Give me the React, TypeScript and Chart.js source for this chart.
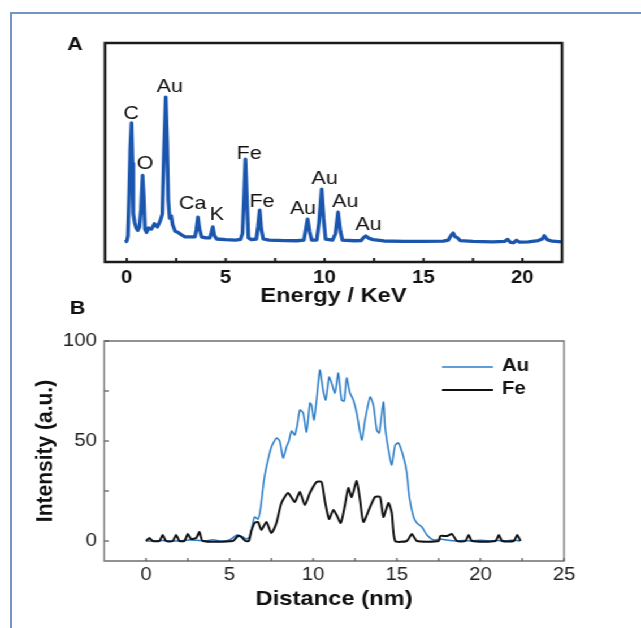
import { useEffect, useRef } from "react";
import { Chart, registerables } from "chart.js";

Chart.register(...registerables);

const FONT = "'Liberation Sans', Arial, Helvetica, sans-serif";

// ---- Panel A: EDX spectrum ----
const spectrumEnergy = [
  -0.1, 0.0, 0.06, 0.12, 0.18, 0.24, 0.29, 0.33, 0.4, 0.48, 0.56, 0.64, 0.72, 0.8, 0.86, 0.92,
  1.0, 1.1, 1.25, 1.4, 1.55, 1.68, 1.8, 1.88, 1.97, 2.04, 2.1, 2.17, 2.25, 2.32, 2.45, 2.6,
  2.75, 2.95, 3.2, 3.45, 3.52, 3.6, 3.68, 3.78, 4.0, 4.2, 4.28, 4.35, 4.43, 4.55, 5.0, 5.5,
  5.75, 5.85, 5.93, 6.0, 6.07, 6.15, 6.3, 6.55, 6.63, 6.72, 6.8, 6.9, 7.2, 8.0, 8.6, 8.95,
  9.05, 9.14, 9.24, 9.35, 9.6, 9.72, 9.85, 9.95, 10.05, 10.4, 10.55, 10.68, 10.8, 10.9, 11.5,
  11.85, 11.95, 12.08, 12.25, 12.45, 13.0, 14.0, 15.0, 16.0, 16.25, 16.42, 16.5, 16.6, 16.7,
  16.85, 17.5, 18.5, 19.1, 19.25, 19.4, 19.55, 19.7, 19.85, 20.3, 20.8, 21.0, 21.1, 21.25,
  21.5, 22.0,
];
const spectrumCounts = [
  9.2, 9.5, 12, 30, 52, 63.5, 45, 22, 18, 15.5, 14.5, 16, 24, 39.5, 30, 15,
  13.5, 15.5, 15, 17.5, 16, 18.5, 22, 50, 75.3, 55, 28, 20, 21, 17, 14, 13.5,
  12.5, 11.5, 11.5, 11.5, 15, 20.5, 15, 11.5, 11, 11, 13.5, 16, 12, 10.5, 10.2, 10,
  10.3, 13, 30, 47, 30, 11, 10.2, 10.5, 16, 23.7, 15, 10.5, 10, 9.8, 9.7, 10,
  15, 19.6, 14, 10, 10, 18, 33.3, 20, 10.5, 10, 13, 22.8, 14, 10, 9.7,
  9.8, 11, 11.9, 10.8, 10.2, 9.6, 9.4, 9.4, 9.5, 10, 12.5, 13.2, 11.5, 11.2,
  9.8, 9.4, 9.2, 9.4, 10.3, 9, 8.8, 9.9, 9.1, 9.2, 9.8, 10.5, 12, 10.2,
  9.5, 9.2,
];
const energyTicks = [0, 2.5, 5, 7.5, 10, 12.5, 15, 17.5, 20];
const energyLabels = [0, 5, 10, 15, 20];

const peakNames = ["C", "O", "Au", "Ca", "K", "Fe", "Fe", "Au", "Au", "Au", "Au"];
const peakLabelEnergy = [0.23, 0.93, 2.17, 3.33, 4.55, 6.19, 6.84, 8.91, 10.0, 11.04, 12.22];
const peakLabelHeight = [67.6, 45, 80.1, 26.7, 21.5, 49.5, 27.6, 24.4, 38.1, 27.6, 16.9];

// ---- Panel B: line scan ----
const auDistance = [
  0, 0.5, 1, 1.5, 2, 2.5, 3, 3.5, 4, 4.5, 5, 5.45, 5.8, 6, 6.2, 6.4, 6.5, 6.7, 6.85, 7.05,
  7.2, 7.5, 7.8, 8, 8.2, 8.4, 8.55, 8.7, 8.9, 9.05, 9.2, 9.4, 9.6, 9.8, 9.9, 10.05, 10.2,
  10.4, 10.6, 10.75, 10.95, 11.1, 11.3, 11.5, 11.7, 11.85, 12, 12.2, 12.4, 12.6, 12.9, 13.1,
  13.4, 13.6, 13.8, 13.95, 14.2, 14.3, 14.5, 14.7, 14.9, 15.1, 15.4, 15.6, 15.75, 16, 16.2,
  16.5, 16.8, 17.2, 17.6, 18, 18.5, 19, 19.5, 20, 20.5, 21, 21.5, 22, 22.35,
];
const auIntensity = [
  0, 0, 0.3, 0, 0, 0.5, 0.4, 0, 0.6, 0, 0.5, 3, 2, 1, 2, 9, 12, 11, 16, 30,
  37, 47, 51.5, 50, 41.5, 47, 50, 55, 53, 58, 65.5, 64, 54.5, 69, 68, 60.5, 70.5,
  85.5, 75, 70.5, 82, 79, 74, 84, 70.5, 70, 81.5, 74, 70.5, 64, 50.5, 60.5,
  72, 68, 55.5, 54, 69.5, 57, 45.5, 38, 48, 49, 42, 34, 22, 12, 9,
  7, 3, 0.5, 1, 0.5, 0, 0.3, 0, 0.4, 0, 0.3, 0, 0.5, 0,
];
const feDistance = [
  0, 0.2, 0.4, 0.8, 1, 1.2, 1.6, 1.8, 2, 2.3, 2.5, 2.7, 3, 3.2, 3.4, 5.2, 5.5, 5.7, 5.95,
  6.15, 6.3, 6.5, 6.7, 6.9, 7.2, 7.5, 7.8, 8.1, 8.5, 8.9, 9.2, 9.5, 9.8, 10.2, 10.5, 10.7,
  10.95, 11.2, 11.4, 11.65, 11.9, 12.1, 12.3, 12.6, 12.8, 13, 13.4, 13.7, 14, 14.2, 14.5,
  14.7, 14.9, 15.6, 15.9, 16.2, 17.5, 17.6, 18, 18.3, 18.6, 19.1, 19.3, 19.5, 20.9, 21.1,
  21.3, 22, 22.2, 22.4,
];
const feIntensity = [
  0, 1.5, 0, 0, 3, 0, 0, 3, 0, 0, 3.5, 1, 1.5, 4.5, 0, 0, 2.5, 2, 0,
  0, 5, 9, 9.5, 5.5, 9.5, 4, 9, 19, 24, 19.5, 24.5, 18, 24, 29.5, 29.5, 20,
  11, 15.5, 13, 9, 18, 26.5, 22, 30, 20.5, 9.5, 17, 22, 22, 12, 19,
  14, 0, 0, 3.5, 0, 0, 2.5, 2.5, 3.5, 0, 0, 3, 0, 0, 3,
  0, 0, 3, 0,
];
const distanceTicks = [0, 2.5, 5, 7.5, 10, 12.5, 15, 17.5, 20, 22.5, 25];
const distanceLabels = [0, 5, 10, 15, 20, 25];
const intensityTicks = [0, 25, 50, 75, 100];
const intensityLabels = [0, 50, 100];

// ---- layout ----
const PAGE_W = 641;
const PAGE_H = 628;
const INNER_W = 567;
const SX = PAGE_W / INNER_W; // horizontal stretch of the whole figure
const FRAME = "#7395c6";
const SPEC_BLUE = "#1a55ae";
const AU_BLUE = "#2a7cc7";

const A_H = 320;
const B_TOP = 290;
const B_H = PAGE_H - B_TOP;

const toPts = (xs: number[], ys: number[]) => xs.map((x, i) => ({ x, y: ys[i] }));

// plot box from the scales' own bounds
function plotBox(chart: any) {
  const xs = chart.scales.x;
  const ys = chart.scales.y;
  return { l: xs.left, r: xs.right, t: ys.top, b: ys.bottom };
}

function configA(): any {
  const decor = {
    id: "decorA",
    afterDraw(chart: any) {
      const ctx: CanvasRenderingContext2D = chart.ctx;
      const xs = chart.scales.x;
      const ys = chart.scales.y;
      const { l, r, t, b } = plotBox(chart);
      ctx.save();
      ctx.setLineDash([]);
      ctx.globalAlpha = 1;
      ctx.strokeStyle = "#1b1b1b";
      ctx.lineWidth = 2.5;
      ctx.beginPath();
      ctx.moveTo(l, t);
      ctx.lineTo(r, t);
      ctx.lineTo(r, b);
      ctx.lineTo(l, b);
      ctx.closePath();
      ctx.stroke();
      ctx.lineWidth = 2;
      for (const v of energyTicks) {
        const px = xs.getPixelForValue(v);
        ctx.beginPath();
        ctx.moveTo(px, b);
        ctx.lineTo(px, b - 4);
        ctx.stroke();
      }
      // element names above the peaks
      ctx.fillStyle = "#111";
      ctx.font = `19px ${FONT}`;
      ctx.textAlign = "center";
      ctx.textBaseline = "middle";
      peakNames.forEach((name, i) => {
        ctx.fillText(name, xs.getPixelForValue(peakLabelEnergy[i]), ys.getPixelForValue(peakLabelHeight[i]));
      });
      // panel letter
      ctx.font = `bold 19px ${FONT}`;
      ctx.fillText("A", 75 / SX, 45);
      ctx.restore();
    },
  };

  return {
    type: "line",
    data: {
      datasets: [
        {
          label: "Spectrum",
          data: toPts(spectrumEnergy, spectrumCounts),
          borderColor: SPEC_BLUE,
          borderWidth: 3.3,
          borderJoinStyle: "round",
          pointRadius: 0,
          tension: 0,
          fill: false,
        },
      ],
    },
    options: {
      animation: false,
      responsive: false,
      devicePixelRatio: 1,
      layout: { padding: { left: 105 / SX, right: INNER_W - 562 / SX, top: 43, bottom: 0 } },
      plugins: { legend: { display: false }, tooltip: { enabled: false } },
      scales: {
        x: {
          type: "linear",
          min: -1.1,
          max: 22,
          grid: { display: false, drawTicks: false },
          border: { display: false },
          afterBuildTicks: (s: any) => {
            s.ticks = energyTicks.map((value) => ({ value }));
          },
          afterFit: (s: any) => {
            s.height = A_H - 262;
          },
          ticks: {
            autoSkip: false,
            maxRotation: 0,
            padding: 5,
            color: "#111",
            font: { family: FONT, size: 18, weight: "bold" },
            callback: (v: number) => (energyLabels.includes(v) ? String(v) : ""),
          },
          title: {
            display: true,
            text: "Energy / KeV",
            color: "#111",
            font: { family: FONT, size: 21, weight: "bold" },
            padding: { top: 0, bottom: 11 },
          },
        },
        y: { display: false, min: 0, max: 100 },
      },
    },
    plugins: [decor],
  };
}

function configB(): any {
  const decor = {
    id: "decorB",
    afterDraw(chart: any) {
      const ctx: CanvasRenderingContext2D = chart.ctx;
      const xs = chart.scales.x;
      const ys = chart.scales.y;
      const { l, r, t, b } = plotBox(chart);
      ctx.save();
      ctx.setLineDash([]);
      ctx.globalAlpha = 1;
      ctx.strokeStyle = "#6f6f6f";
      ctx.lineWidth = 1.3;
      ctx.beginPath();
      ctx.moveTo(l, t);
      ctx.lineTo(r, t);
      ctx.lineTo(r, b);
      ctx.lineTo(l, b);
      ctx.closePath();
      ctx.stroke();
      ctx.strokeStyle = "#555";
      ctx.lineWidth = 1.2;
      for (const v of distanceTicks) {
        const px = xs.getPixelForValue(v);
        ctx.beginPath();
        ctx.moveTo(px, b);
        ctx.lineTo(px, b - 3);
        ctx.stroke();
      }
      for (const v of intensityTicks) {
        const py = ys.getPixelForValue(v);
        ctx.beginPath();
        ctx.moveTo(l, py);
        ctx.lineTo(l + 4, py);
        ctx.stroke();
      }
      // legend
      const rowY = [77, 100];
      chart.data.datasets.forEach((ds: any, r: number) => {
        ctx.strokeStyle = ds.borderColor;
        ctx.lineWidth = ds.borderWidth;
        ctx.beginPath();
        ctx.moveTo(442 / SX, rowY[r]);
        ctx.lineTo(493 / SX, rowY[r]);
        ctx.stroke();
        ctx.fillStyle = "#111";
        ctx.font = `bold 18px ${FONT}`;
        ctx.textAlign = "left";
        ctx.textBaseline = "middle";
        ctx.fillText(ds.label, 502 / SX, rowY[r] - 1);
      });
      // panel letter
      ctx.fillStyle = "#111";
      ctx.font = `bold 19px ${FONT}`;
      ctx.textAlign = "center";
      ctx.textBaseline = "middle";
      ctx.fillText("B", 77.5 / SX, 308.5 - B_TOP);
      ctx.restore();
    },
  };

  const plotLeft = 104.2 / SX;
  const plotRight = 564 / SX;

  return {
    type: "line",
    data: {
      datasets: [
        {
          label: "Au",
          data: toPts(auDistance, auIntensity),
          borderColor: AU_BLUE,
          borderWidth: 1.5,
          pointRadius: 0,
          tension: 0.2,
          fill: false,
          order: 1,
        },
        {
          label: "Fe",
          data: toPts(feDistance, feIntensity),
          borderColor: "#111",
          borderWidth: 2,
          pointRadius: 0,
          tension: 0.2,
          fill: false,
          order: 0,
        },
      ],
    },
    options: {
      animation: false,
      responsive: false,
      devicePixelRatio: 1,
      layout: { padding: { left: 0, right: INNER_W - plotRight, top: 341 - B_TOP, bottom: 0 } },
      plugins: { legend: { display: false }, tooltip: { enabled: false } },
      scales: {
        x: {
          type: "linear",
          min: -2.5,
          max: 25,
          grid: { display: false, drawTicks: false },
          border: { display: false },
          afterBuildTicks: (s: any) => {
            s.ticks = distanceTicks.map((value) => ({ value }));
          },
          afterFit: (s: any) => {
            s.height = B_H - (561 - B_TOP);
          },
          ticks: {
            autoSkip: false,
            maxRotation: 0,
            padding: 3,
            color: "#222",
            font: { family: FONT, size: 18 },
            callback: (v: number) => (distanceLabels.includes(v) ? String(v) : ""),
          },
          title: {
            display: true,
            text: "Distance (nm)",
            color: "#111",
            font: { family: FONT, size: 21, weight: "bold" },
            padding: { top: 0, bottom: 16.4 },
          },
        },
        y: {
          type: "linear",
          min: -10,
          max: 100,
          grid: { display: false, drawTicks: false },
          border: { display: false },
          afterBuildTicks: (s: any) => {
            s.ticks = intensityTicks.map((value) => ({ value }));
          },
          afterFit: (s: any) => {
            s.width = plotLeft;
          },
          ticks: {
            autoSkip: false,
            padding: plotLeft - 97 / SX,
            color: "#222",
            font: { family: FONT, size: 18 },
            callback: (v: number) => (intensityLabels.includes(v) ? String(v) : ""),
          },
          title: {
            display: true,
            text: "Intensity (a.u.)",
            color: "#111",
            font: { family: FONT, size: 21, weight: "bold" },
            padding: { top: 46 / SX - 12.6, bottom: 0 },
          },
        },
      },
    },
    plugins: [decor],
  };
}

export default function App() {
  const aRef = useRef<HTMLCanvasElement>(null);
  const bRef = useRef<HTMLCanvasElement>(null);

  useEffect(() => {
    document.body.style.margin = "0";
    const a = new Chart(aRef.current as HTMLCanvasElement, configA());
    const b = new Chart(bRef.current as HTMLCanvasElement, configB());
    return () => {
      a.destroy();
      b.destroy();
    };
  }, []);

  return (
    <div
      style={{
        position: "fixed",
        left: 0,
        top: 0,
        width: PAGE_W,
        height: PAGE_H,
        overflow: "hidden",
        background: "#fff",
      }}
    >
      <div style={{ position: "absolute", left: 10, top: 12, right: 0, height: 2, background: FRAME }} />
      <div style={{ position: "absolute", left: 10, top: 12, bottom: 0, width: 2, background: FRAME }} />
      <div
        style={{
          position: "absolute",
          left: 0,
          top: 0,
          width: INNER_W,
          height: PAGE_H,
          transform: `scaleX(${SX})`,
          transformOrigin: "0 0",
        }}
      >
        <canvas ref={aRef} width={INNER_W} height={A_H} style={{ position: "absolute", left: 0, top: 0 }} />
        <canvas ref={bRef} width={INNER_W} height={B_H} style={{ position: "absolute", left: 0, top: B_TOP }} />
      </div>
    </div>
  );
}
